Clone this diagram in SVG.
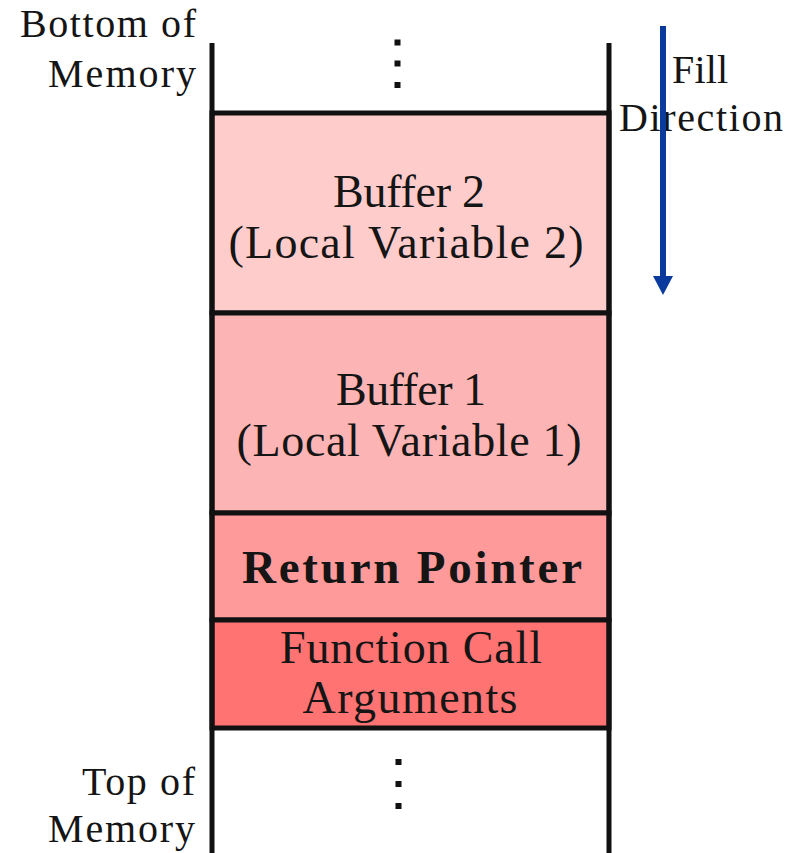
<svg xmlns="http://www.w3.org/2000/svg" width="798" height="853" viewBox="0 0 798 853">
<style>
.t{font-family:"Liberation Serif","DejaVu Serif",serif;font-size:46px;fill:#151515}
.l{font-size:40px}
.b{font-weight:bold;font-size:47px}
.box{stroke:#111;stroke-width:5}
.wall{stroke:#111;stroke-width:5}
.dot{fill:#111}
</style>
<g id="labels">
<text class="t l" x="196" y="37" text-anchor="end" textLength="176">Bottom of</text>
<text class="t l" x="196" y="87" text-anchor="end" textLength="148">Memory</text>
<text class="t l" x="195" y="795" text-anchor="end" textLength="113">Top of</text>
<text class="t l" x="195" y="842" text-anchor="end" textLength="147">Memory</text>
<text class="t l" x="672" y="83" textLength="56">Fill</text>
<text class="t l" x="619" y="131" textLength="164">Direction</text>
</g>
<g id="buffer2">
<rect class="box" x="212" y="113" width="397" height="200" fill="#ffcccc"/>
<text class="t" x="409" y="207" text-anchor="middle" textLength="152">Buffer 2</text>
<text class="t" x="406" y="258" text-anchor="middle" textLength="355">(Local Variable 2)</text>
</g>
<g id="buffer1">
<rect class="box" x="212" y="313" width="397" height="200" fill="#fcb4b4"/>
<text class="t" x="411" y="405" text-anchor="middle" textLength="150">Buffer 1</text>
<text class="t" x="409" y="456" text-anchor="middle" textLength="345">(Local Variable 1)</text>
</g>
<g id="return-pointer">
<rect class="box" x="212" y="513" width="397" height="107" fill="#ff9a9a"/>
<text class="t b" x="412" y="583" text-anchor="middle" textLength="340">Return Pointer</text>
</g>
<g id="function-args">
<rect class="box" x="212" y="620" width="397" height="108" fill="#ff7373"/>
<text class="t" x="411" y="663" text-anchor="middle" textLength="262">Function Call</text>
<text class="t" x="410" y="713" text-anchor="middle" textLength="215">Arguments</text>
</g>
<g id="connectors">
<line class="wall" x1="212" y1="43" x2="212" y2="853"/>
<line class="wall" x1="609" y1="43" x2="609" y2="853"/>
<line x1="663" y1="26" x2="663" y2="280" stroke="#0a3a9c" stroke-width="6"/>
<polygon points="653,276 673,276 663,295" fill="#0a3a9c"/>
</g>
<g id="dots">
<rect class="dot" x="394.5" y="39.5" width="6" height="6"/>
<rect class="dot" x="394.5" y="60.5" width="6" height="6"/>
<rect class="dot" x="394.5" y="82" width="6" height="6"/>
<rect class="dot" x="395.5" y="759" width="6" height="6"/>
<rect class="dot" x="395.5" y="781" width="6" height="6"/>
<rect class="dot" x="395.5" y="803" width="6" height="6"/>
</g>
</svg>
